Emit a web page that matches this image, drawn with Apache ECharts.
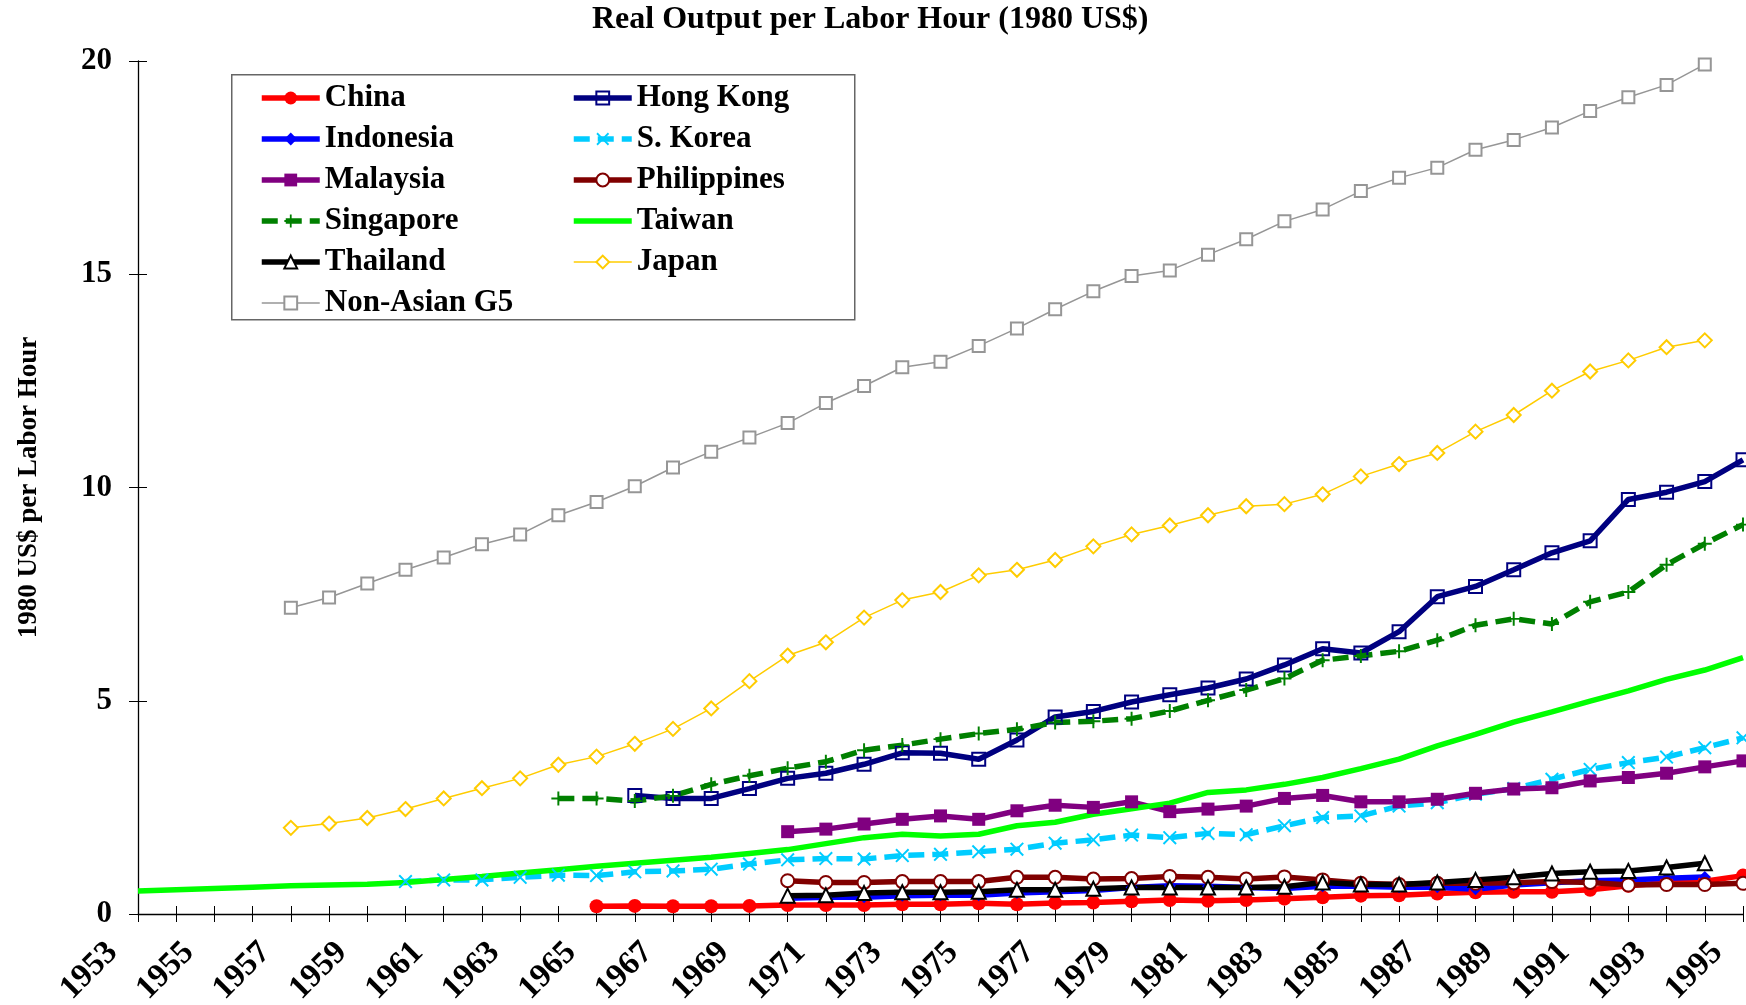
<!DOCTYPE html>
<html>
<head>
<meta charset="utf-8">
<title>Real Output per Labor Hour</title>
<script src="https://cdn.jsdelivr.net/npm/echarts@6/dist/echarts.min.js"></script>
<style>
  html, body { margin: 0; padding: 0; background: #fff; }
  #chart { width: 1746px; height: 1005px; }
</style>
</head>
<body>
<div id="chart"></div>
<script>
// categories (years) and values
const years = ['1953', '1954', '1955', '1956', '1957', '1958', '1959', '1960', '1961', '1962',
  '1963', '1964', '1965', '1966', '1967', '1968', '1969', '1970', '1971', '1972', '1973', '1974',
  '1975', '1976', '1977', '1978', '1979', '1980', '1981', '1982', '1983', '1984', '1985', '1986',
  '1987', '1988', '1989', '1990', '1991', '1992', '1993', '1994', '1995'];

// every series starts in a given year and runs on from there
const chinaStart = 1965;
const china = [0.18, 0.19, 0.18, 0.18, 0.19, 0.21, 0.21, 0.21, 0.23, 0.23, 0.25, 0.23, 0.26, 0.27,
  0.30, 0.33, 0.31, 0.33, 0.36, 0.39, 0.43, 0.44, 0.48, 0.51, 0.52, 0.52, 0.57, 0.66, 0.74, 0.77, 0.90];

const hongKongStart = 1966;
const hongKong = [2.78, 2.71, 2.71, 2.94, 3.18, 3.30, 3.51, 3.78, 3.77, 3.63, 4.08, 4.62, 4.75, 4.97,
  5.14, 5.30, 5.51, 5.84, 6.22, 6.12, 6.62, 7.44, 7.68, 8.07, 8.47, 8.75, 9.72, 9.89, 10.14, 10.65];

const indonesiaStart = 1970;
const indonesia = [0.37, 0.39, 0.39, 0.43, 0.44, 0.44, 0.49, 0.52, 0.55, 0.62, 0.66, 0.65, 0.62,
  0.60, 0.65, 0.65, 0.63, 0.63, 0.58, 0.68, 0.73, 0.78, 0.80, 0.84, 0.87];

const koreaStart = 1960;
const korea = [0.76, 0.80, 0.80, 0.86, 0.91, 0.90, 0.99, 1.01, 1.05, 1.17, 1.27, 1.30, 1.29, 1.37,
  1.40, 1.46, 1.52, 1.66, 1.74, 1.85, 1.79, 1.89, 1.86, 2.07, 2.26, 2.30, 2.53, 2.61, 2.81, 2.94,
  3.16, 3.39, 3.55, 3.68, 3.90, 4.13];

const malaysiaStart = 1970;
const malaysia = [1.93, 1.99, 2.11, 2.22, 2.30, 2.22, 2.42, 2.55, 2.50, 2.63, 2.40, 2.46, 2.53, 2.71,
  2.78, 2.63, 2.63, 2.69, 2.83, 2.93, 2.96, 3.12, 3.20, 3.30, 3.45, 3.59];

const philippinesStart = 1970;
const philippines = [0.78, 0.74, 0.74, 0.76, 0.76, 0.76, 0.86, 0.86, 0.82, 0.83, 0.88, 0.86, 0.82,
  0.87, 0.80, 0.72, 0.69, 0.72, 0.72, 0.73, 0.76, 0.74, 0.68, 0.69, 0.69, 0.72];

const singaporeStart = 1964;
const singapore = [2.71, 2.71, 2.65, 2.77, 3.04, 3.24, 3.42, 3.57, 3.84, 3.96, 4.10, 4.23, 4.33, 4.49,
  4.52, 4.58, 4.76, 5.01, 5.25, 5.52, 5.95, 6.05, 6.16, 6.42, 6.77, 6.92, 6.80, 7.32, 7.55, 8.19,
  8.68, 9.13];

const taiwanStart = 1953;
const taiwan = [0.54, 0.57, 0.60, 0.63, 0.66, 0.68, 0.70, 0.74, 0.81, 0.88, 0.96, 1.04, 1.12, 1.19,
  1.26, 1.33, 1.42, 1.51, 1.65, 1.79, 1.87, 1.83, 1.87, 2.07, 2.15, 2.34, 2.47, 2.60, 2.85, 2.91,
  3.04, 3.20, 3.41, 3.63, 3.94, 4.21, 4.50, 4.74, 4.99, 5.23, 5.50, 5.72, 6.01];

const thailandStart = 1970;
const thailand = [0.43, 0.44, 0.49, 0.51, 0.51, 0.52, 0.57, 0.57, 0.59, 0.62, 0.62, 0.62, 0.62,
  0.64, 0.74, 0.69, 0.69, 0.74, 0.80, 0.86, 0.95, 0.99, 1.01, 1.09, 1.19];

const japanStart = 1957;
const japan = [2.02, 2.12, 2.25, 2.46, 2.71, 2.95, 3.18, 3.50, 3.69, 3.99, 4.34, 4.82, 5.46, 6.06,
  6.37, 6.95, 7.36, 7.55, 7.94, 8.07, 8.30, 8.62, 8.90, 9.11, 9.35, 9.56, 9.61, 9.84, 10.26, 10.55,
  10.81, 11.31, 11.70, 12.27, 12.72, 12.98, 13.29, 13.45];

const g5Start = 1957;
const g5 = [7.18, 7.42, 7.75, 8.07, 8.36, 8.67, 8.90, 9.35, 9.66, 10.03, 10.47, 10.84, 11.17, 11.51,
  11.98, 12.38, 12.82, 12.95, 13.32, 13.73, 14.18, 14.60, 14.96, 15.09, 15.46, 15.82, 16.24, 16.52,
  16.95, 17.26, 17.50, 17.92, 18.15, 18.44, 18.83, 19.15, 19.44, 19.92];

const yTicks = [0, 5, 10, 15, 20];

//把某年开始的数据铺到整条年份轴上，其余年份留空
function pad(start, vals) {
  let out = years.map(() => null);
  let first = years.indexOf(String(start));
  vals.forEach((v, i) => { out[first + i] = v; });
  return out;
}

const FONT = '"Liberation Serif", "Times New Roman", serif';
const CROSS = 'path://M1,0L5,4L9,0L10,1L6,5L10,9L9,10L5,6L1,10L0,9L4,5L0,1Z';
const PLUS = 'path://M4.3,0H5.7V4.3H10V5.7H5.7V10H4.3V5.7H0V4.3H4.3Z';
const THICK = 5.5;

function line(name, start, vals, color, width, type, symbol, size, fill, border) {
  return {
    name: name,
    type: 'line',
    data: pad(start, vals),
    showAllSymbol: true,
    symbol: symbol,
    symbolSize: size,
    lineStyle: { color: color, width: width, type: type },
    itemStyle: {
      color: fill,
      borderColor: border ? color : null,
      borderWidth: border ? 2 : 0
    },
    emphasis: { disabled: true },
    z: 3
  };
}

const series = [
  line('China', chinaStart, china, '#ff0000', THICK, 'solid', 'circle', 14, '#ff0000', false),
  line('Hong Kong', hongKongStart, hongKong, '#000080', THICK, 'solid', 'rect', 13, 'rgba(255,255,255,0)', true),
  line('Indonesia', indonesiaStart, indonesia, '#0000ff', THICK, 'solid', 'diamond', 12, '#0000ff', false),
  line('S. Korea', koreaStart, korea, '#00ccff', THICK, [16, 8], CROSS, 14, '#00ccff', false),
  line('Malaysia', malaysiaStart, malaysia, '#800080', THICK, 'solid', 'rect', 13, '#800080', false),
  line('Philippines', philippinesStart, philippines, '#800000', THICK, 'solid', 'circle', 13, '#ffffff', true),
  line('Singapore', singaporeStart, singapore, '#008000', THICK, [16, 8], PLUS, 14, '#008000', false),
  line('Taiwan', taiwanStart, taiwan, '#00ff00', THICK, 'solid', 'none', 0, '#00ff00', false),
  line('Thailand', thailandStart, thailand, '#000000', THICK, 'solid', 'triangle', 14, '#ffffff', true),
  line('Japan', japanStart, japan, '#ffcc00', 1.5, 'solid', 'diamond', 14, '#ffffff', true),
  line('Non-Asian G5', g5Start, g5, '#969696', 1.5, 'solid', 'rect', 12, '#ffffff', true)
];

const legendText = { fontFamily: FONT, fontWeight: 'bold', fontSize: 31, color: '#000', lineHeight: 32 };

function legendCol(left, names) {
  return {
    orient: 'vertical', left: left, top: 82, padding: 0, itemGap: 9,
    itemWidth: 58, itemHeight: 16, textStyle: legendText, selectedMode: false,
    lineStyle: { width: 'inherit' },
    data: names.map(n => n === 'Taiwan'
      ? { name: n, itemStyle: { color: 'rgba(0,0,0,0)', borderWidth: 0, opacity: 0 } }
      : n)
  };
}

const option = {
  backgroundColor: '#fff',
  animation: false,
  title: {
    text: 'Real Output per Labor Hour (1980 US$)',
    left: 592,
    top: 4,
    padding: 0,
    textStyle: { fontFamily: FONT, fontWeight: 'bold', fontSize: 32, color: '#000' }
  },
  // 标签会伸出画布底边，不让网格自动缩进
  grid: { left: 138, right: 3, top: 61, bottom: 91, containLabel: false, outerBoundsMode: 'none' },
  // two legends give the two aligned columns of the boxed key
  legend: [
    legendCol(259, ['China', 'Indonesia', 'Malaysia', 'Singapore', 'Thailand', 'Non-Asian G5']),
    legendCol(571, ['Hong Kong', 'S. Korea', 'Philippines', 'Taiwan', 'Japan'])
  ],
  graphic: [{
    type: 'rect', left: 231, top: 74, z: 1,
    shape: { width: 623, height: 245 },
    style: { fill: '#fff', stroke: '#666', lineWidth: 1.5 }
  }],
  xAxis: [
    {
      type: 'category', data: years, boundaryGap: false,
      axisLine: { lineStyle: { color: '#000', width: 1.3 } },
      axisTick: { interval: 0, length: 8, lineStyle: { color: '#000' } },
      axisLabel: {
        interval: 1, rotate: 45, margin: 8, padding: [0, 36, 0, 0], color: '#000',
        fontFamily: FONT, fontWeight: 'bold', fontSize: 33
      },
      splitLine: { show: false }
    },
    {
      // ticks crossing the axis: inner half
      type: 'category', data: years, boundaryGap: false, position: 'bottom',
      axisLine: { show: false },
      axisTick: { interval: 0, inside: true, length: 8, lineStyle: { color: '#000' } },
      axisLabel: { show: false },
      splitLine: { show: false }
    }
  ],
  yAxis: [
    {
      type: 'value', min: yTicks[0], max: yTicks[yTicks.length - 1], interval: 5,
      name: '1980 US$ per Labor Hour', nameLocation: 'middle', nameGap: 95, nameRotate: 90,
      nameTextStyle: { fontFamily: FONT, fontWeight: 'bold', fontSize: 27, color: '#000' },
      axisLine: { show: true, lineStyle: { color: '#000', width: 1.3 } },
      axisTick: { show: true, length: 9, lineStyle: { color: '#000' } },
      axisLabel: { margin: 26, color: '#000', fontFamily: FONT, fontWeight: 'bold', fontSize: 31 },
      splitLine: { show: false }
    },
    {
      type: 'value', min: yTicks[0], max: yTicks[yTicks.length - 1], interval: 5, position: 'left',
      axisLine: { show: false },
      axisTick: { show: true, inside: true, length: 9, lineStyle: { color: '#000' } },
      axisLabel: { show: false },
      splitLine: { show: false }
    }
  ],
  series: series
};

let chart = echarts.init(document.getElementById('chart'));
chart.setOption(option);
</script>
</body>
</html>
